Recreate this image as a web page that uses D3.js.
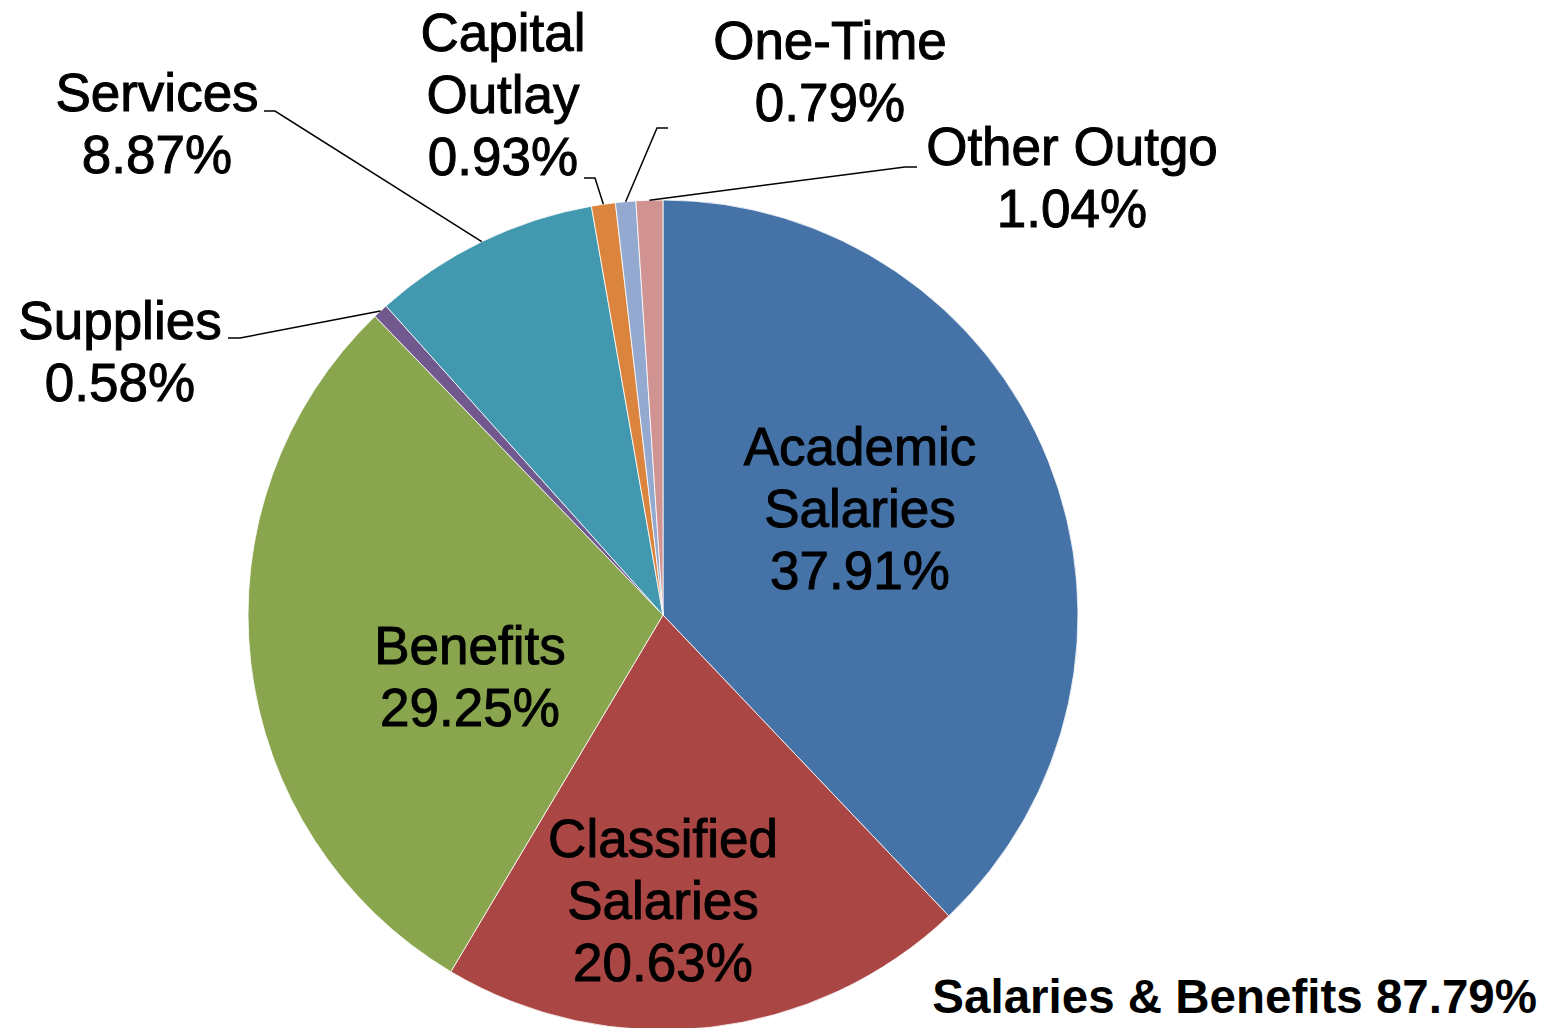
<!DOCTYPE html>
<html lang="en">
<head>
  <meta charset="utf-8">
  <title>Expenditures pie</title>
  <script src="https://d3js.org/d3.v7.min.js"></script>
  <style>
    body { margin: 0; background: #fff; }
    text { font-family: "Liberation Sans", Arial, sans-serif; }
  </style>
</head>
<body>
	<script type="text/javascript">

		// data, clockwise from 12 o'clock
		var categories = ["Academic Salaries", "Classified Salaries", "Benefits", "Supplies",
		                  "Services", "Capital Outlay", "One-Time", "Other Outgo"];
		var labelLines = [["Academic", "Salaries"], ["Classified", "Salaries"], ["Benefits"], ["Supplies"],
		                  ["Services"], ["Capital", "Outlay"], ["One-Time"], ["Other Outgo"]];
		var values = [37.91, 20.63, 29.25, 0.58, 8.87, 0.93, 0.79, 1.04];
		var colors = ["#4572A7", "#AA4643", "#89A54E", "#71588F", "#4198AF", "#DB843D", "#93A9CF", "#D19392"];
		var totalLabel = "Salaries & Benefits 87.79%";

		// layout
		var width = 1547, height = 1028;
		var cx = 663, cy = 615, radius = 415;
		var fontSize = 53, lineH = 62;

		// label anchor (centre x, first baseline) per slice
		var labelAnchor = [[860, 465], [663, 857], [470, 664], [120, 339],
		                   [157, 111], [503, 51], [830, 59], [1072, 165]];
		// leader line elbows for outside labels (null = inside label)
		var leaderPts = [null, null, null, [[240, 338], [228, 338]],
		                 [[275, 111], [264, 111]], [[595, 178], [584, 178]],
		                 [[657, 128], [668, 128]], [[905, 167], [917, 167]]];

		var svg = d3.select("body")
					.append("svg")
					.attr("width", width)
					.attr("height", height);

		var g = svg.append("g")
		           .attr("transform", "translate(" + cx + "," + cy + ")");

		var pie = d3.pie().sort(null).value(function(d) { return d; });
		var arcs = pie(values);

		var arc = d3.arc().innerRadius(0).outerRadius(radius);
		var edge = d3.arc().innerRadius(radius).outerRadius(radius);

		g.selectAll("path.slice")
		 .data(arcs)
		 .enter()
		   .append("path")
		   .attr("class", "slice")
		   .attr("d", arc)
		   .attr("fill", function(d, i) { return colors[i]; })
		   .attr("stroke", "#fff")
		   .attr("stroke-width", 0.8);

		// leader lines
		arcs.forEach(function(d, i) {
			if (!leaderPts[i]) return;
			var c = edge.centroid(d);
			var pts = [[cx + c[0], cy + c[1]]].concat(leaderPts[i]);
			svg.append("path")
			   .attr("d", d3.line()(pts))
			   .attr("fill", "none")
			   .attr("stroke", "#000")
			   .attr("stroke-width", 1.5);
		});

		// labels
		var fmt = d3.format(".2f");
		labelLines.forEach(function(lines, i) {
			var all = lines.concat([fmt(values[i]) + "%"]);
			var t = svg.append("text")
			           .attr("text-anchor", "middle")
			           .attr("font-size", fontSize + "px")
			           .attr("fill", "#000")
			           .attr("stroke", "#000")
			           .attr("stroke-width", 1);
			all.forEach(function(s, k) {
				t.append("tspan")
				 .attr("x", labelAnchor[i][0])
				 .attr("y", labelAnchor[i][1] + k * lineH)
				 .text(s);
			});
		});

		svg.append("text")
		   .attr("x", 1537)
		   .attr("y", 1013)
		   .attr("text-anchor", "end")
		   .attr("font-size", "47.5px")
		   .attr("font-weight", "bold")
		   .attr("fill", "#000")
		   .text(totalLabel);
	</script>
</body>
</html>
